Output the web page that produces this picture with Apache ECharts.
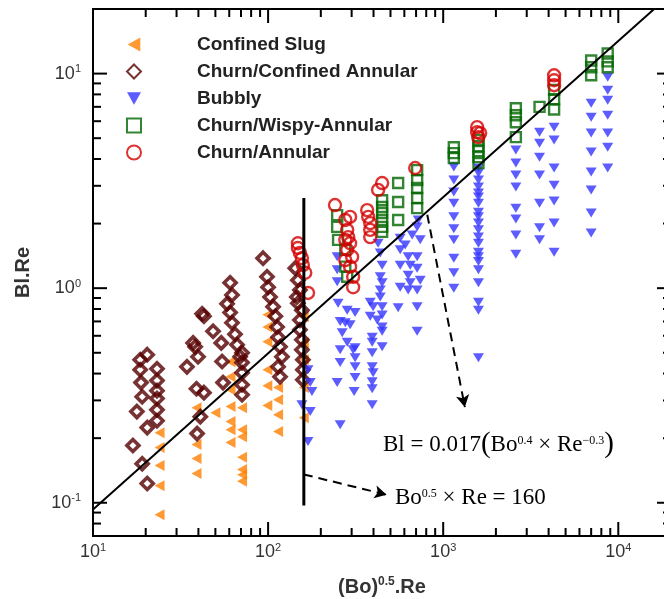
<!DOCTYPE html>
<html>
<head>
<meta charset="utf-8">
<script src="https://cdn.jsdelivr.net/npm/echarts@6/dist/echarts.min.js"></script>
<style>
  html, body { margin: 0; padding: 0; background: #fff; }
  #chart { width: 664px; height: 599px; }
</style>
</head>
<body>
<div id="chart"></div>
<script>
// ---- axis ranges and tick values ----
const X_MIN = 10, X_MAX = 20000;
const Y_MIN = 0.07, Y_MAX = 20;
const xMajorTicks = [10, 100, 1000, 10000];
const xMinorTicks = [20, 30, 40, 50, 60, 70, 80, 90, 200, 300, 400, 500, 600, 700, 800, 900,
                     2000, 3000, 4000, 5000, 6000, 7000, 8000, 9000];
const yMajorTicks = [0.1, 1, 10];
const yMinorTicks = [0.08, 0.09, 0.2, 0.3, 0.4, 0.5, 0.6, 0.7, 0.8, 0.9, 2, 3, 4, 5, 6, 7, 8, 9];

// ---- flow-regime observations: [(Bo)^0.5.Re, Bl.Re] ----
const confinedSlug = [
  [24, 0.212], [24, 0.181], [24, 0.149], [24, 0.120], [24, 0.088],
  [39, 0.277], [39, 0.187], [39, 0.161], [39, 0.137],
  [50, 0.263],
  [61, 0.454], [61, 0.387], [61, 0.336], [61, 0.281], [61, 0.239], [61, 0.219], [61, 0.191],
  [71, 0.277], [71, 0.219], [71, 0.203], [71, 0.163], [71, 0.143], [71, 0.135], [71, 0.126],
  [99, 0.751], [99, 0.660], [99, 0.563], [99, 0.417], [99, 0.351], [99, 0.284],
  [114, 0.344], [114, 0.302], [114, 0.257], [114, 0.215],
  [160, 0.735], [160, 0.556], [160, 0.464], [160, 0.344], [160, 0.249]
];

const churnConfinedAnnular = [
  [20.4, 0.49], [18.6, 0.464], [18.6, 0.417], [18.8, 0.363], [19.1, 0.312], [17.8, 0.266],
  [20.4, 0.224], [16.9, 0.185], [19.1, 0.152], [20.4, 0.123],
  [23.2, 0.421], [23.2, 0.371], [23.2, 0.333], [23.2, 0.306], [23.2, 0.271], [23.2, 0.241],
  [42, 0.76], [43, 0.74], [48.5, 0.63], [37.3, 0.556], [38.3, 0.533], [39.8, 0.479], [34.4, 0.43],
  [39, 0.34], [43, 0.326], [41, 0.252], [39.3, 0.21],
  [60.7, 1.06], [62.2, 0.93], [58.3, 0.845], [60.7, 0.77], [62.2, 0.69], [64.7, 0.61], [54, 0.556],
  [66.5, 0.545], [69.2, 0.479], [71, 0.5], [54.6, 0.455], [71, 0.45], [71, 0.404], [55.3, 0.363],
  [71, 0.355], [71, 0.319],
  [93.6, 1.38], [98.6, 1.13], [100, 1.01], [102.6, 0.91], [106.8, 0.82], [110, 0.74], [112.6, 0.66],
  [114, 0.59], [117, 0.533], [120, 0.479], [114, 0.43], [117, 0.387],
  [143, 1.24], [148, 1.09], [152, 0.98], [146, 0.91], [148, 0.85], [156, 0.79], [152, 0.71],
  [152, 0.64], [156, 0.575], [156, 0.516], [158, 0.464], [158, 0.417], [158, 0.374]
];

const bubbly = [
  [169, 0.417], [174, 0.363], [178, 0.33], [156, 0.286], [174, 0.266], [169, 0.193],
  [248, 1.4], [248, 1.22], [248, 1.07], [251, 0.85], [283, 0.79], [314, 0.77], [258, 0.70], [276, 0.69],
  [294, 0.675], [265, 0.62], [283, 0.56], [258, 0.516], [306, 0.516], [314, 0.474], [258, 0.45],
  [248, 0.363], [258, 0.231], [314, 0.527], [314, 0.43], [314, 0.383], [310, 0.33],
  [425, 1.62], [437, 1.46], [448, 1.28], [437, 1.13], [448, 1.06], [437, 0.98], [437, 0.91], [383, 0.86],
  [398, 0.82], [448, 0.82], [448, 0.75], [383, 0.74], [420, 0.71], [448, 0.66], [448, 0.63], [393, 0.59],
  [393, 0.56], [393, 0.5], [393, 0.43], [398, 0.404], [393, 0.366], [393, 0.34], [393, 0.286], [448, 0.533],
  [568, 1.71], [607, 1.59], [665, 1.77], [710, 1.93], [720, 2.08], [568, 1.51], [631, 1.4], [710, 1.4],
  [568, 1.28], [648, 1.28], [710, 1.24], [631, 1.15], [648, 1.06], [568, 1.01], [631, 0.98], [710, 0.98],
  [553, 0.81], [710, 0.82], [710, 0.63], [739, 1.68], [739, 1.09],
  [1150, 3.67], [1150, 3.19], [1150, 2.81], [1150, 2.49], [1150, 2.15], [1150, 1.89], [1150, 1.68],
  [1150, 1.38], [1150, 1.18], [1150, 1.0],
  [1590, 3.63], [1590, 3.44], [1590, 3.19], [1590, 2.96], [1590, 2.78], [1590, 2.66], [1590, 2.49],
  [1590, 2.26], [1590, 2.15], [1590, 2.01], [1590, 1.87], [1590, 1.73], [1590, 1.62], [1590, 1.47],
  [1590, 1.4], [1590, 1.33], [1590, 1.22], [1590, 1.06], [1590, 0.86], [1590, 0.79], [1590, 0.474],
  [2600, 4.4], [2600, 3.83], [2600, 3.37], [2600, 2.96], [2600, 2.36], [2600, 2.1], [2600, 1.77], [2600, 1.44],
  [3550, 5.33], [3550, 4.74], [3550, 4.08], [3550, 3.37], [3550, 2.49], [3550, 1.91], [3550, 1.68],
  [4300, 5.63], [4300, 4.9], [4300, 3.63], [4300, 3.02], [4300, 2.55], [4300, 2.01], [4300, 1.47],
  [7000, 7.28], [7000, 6.26], [7000, 5.28], [7000, 4.31], [7000, 3.48], [7000, 2.87], [7000, 2.24], [7000, 1.81],
  [8700, 9.61], [8700, 8.36], [8700, 7.52], [8700, 6.4], [8700, 5.28], [8700, 4.54], [8700, 3.63]
];

const churnWispyAnnular = [
  [248, 2.19], [248, 1.93], [251, 1.68], [276, 1.51], [276, 1.26], [283, 1.13],
  [448, 2.57], [448, 2.39], [448, 2.24], [448, 2.08], [448, 1.93], [448, 1.83],
  [553, 3.09], [553, 2.52], [553, 2.08],
  [710, 3.55], [710, 3.19], [710, 2.93], [710, 2.63], [710, 2.36],
  [1150, 4.54], [1150, 4.26], [1150, 4.04],
  [1590, 4.9], [1590, 4.59], [1590, 4.35], [1590, 4.08], [1590, 3.83],
  [2600, 6.9], [2600, 6.4], [2600, 5.93], [2600, 5.06],
  [3550, 7.0],
  [4300, 8.4], [4300, 7.6], [4300, 6.8],
  [7000, 11.5], [7000, 10.7], [7000, 9.82],
  [8700, 12.4], [8700, 11.4], [8700, 10.7]
];

const churnAnnular = [
  [148, 1.62], [148, 1.54], [152, 1.46], [156, 1.38], [158, 1.28], [163, 1.18], [169, 0.95],
  [241, 2.44],
  [276, 2.08], [294, 2.15], [283, 1.87], [287, 1.73], [294, 1.62], [283, 1.51], [302, 1.4], [276, 1.35],
  [294, 1.26], [306, 1.13], [306, 1.01], [276, 1.68],
  [368, 2.31], [373, 2.15], [383, 2.01], [383, 1.87], [383, 1.73],
  [425, 2.87], [448, 3.09],
  [692, 3.63],
  [1563, 5.63], [1563, 5.33], [1585, 5.06], [1626, 5.28],
  [4300, 9.82], [4300, 9.31], [4300, 8.83]
];

// correlation line and the Bo^0.5 x Re = 160 boundary
const fitLine = [[10, 0.093], [20000, 23.5]];
const thresholdLine = [[160, 0.097], [160, 2.63]];
// dashed leaders from each line to its equation
const leaderToThreshold = [[160, 0.1355], [475, 0.109]];
const leaderToFit = [[811, 2.2], [1330, 0.279]];

const seriesNames = ['Confined Slug', 'Churn/Confined Annular', 'Bubbly', 'Churn/Wispy-Annular', 'Churn/Annular'];

const SANS = '"Liberation Sans", Arial, Helvetica, sans-serif';
const SERIF = '"Liberation Serif", "Times New Roman", serif';

function powerLabel(v) {
  const lg = Math.log10(v);
  const e = Math.round(lg);
  if (Math.abs(lg - e) > 1e-6) return '';
  return '{b|10}{s|' + e + '}';
}

const powerRich = {
  b: { fontSize: 18, lineHeight: 20, color: '#333', fontFamily: SANS },
  s: { fontSize: 11, lineHeight: 11, color: '#333', fontFamily: SANS, verticalAlign: 'top' }
};

const chart = echarts.init(document.getElementById('chart'), null, { renderer: 'canvas' });

const hollow = (c, w) => ({ color: 'rgba(0,0,0,0)', borderColor: c, borderWidth: w });

const equationTexts = [
  {
    id: 'eq-fit', type: 'text', left: 383, top: 430, silent: true,
    style: {
      text: '{t|Bl = 0.017}{p|(}{t|Bo}{s|0.4}{t| \u00d7 Re}{s|\u22120.3}{p|)}',
      rich: {
        t: { fontSize: 23, lineHeight: 20, fontFamily: SERIF, fill: '#000' },
        s: { fontSize: 12, lineHeight: 12, fontFamily: SERIF, fill: '#000', verticalAlign: 'top' },
        p: { fontSize: 29, lineHeight: 20, fontFamily: SERIF, fill: '#000' }
      }
    }
  },
  {
    id: 'eq-threshold', type: 'text', left: 395, top: 486, silent: true,
    style: {
      text: '{t|Bo}{s|0.5}{t| \u00d7 Re = 160}',
      rich: {
        t: { fontSize: 23, lineHeight: 20, fontFamily: SERIF, fill: '#000' },
        s: { fontSize: 12, lineHeight: 12, fontFamily: SERIF, fill: '#000', verticalAlign: 'top' }
      }
    }
  }
];

const option = {
  animation: false,
  backgroundColor: '#fff',
  grid: {
    left: 93, top: 9, right: -7, bottom: 63,
    outerBoundsMode: 'none', containLabel: false,
    show: true, borderColor: '#000', borderWidth: 2
  },
  xAxis: {
    type: 'log', logBase: 10, min: X_MIN, max: X_MAX,
    axisLine: { show: false }, axisTick: { show: false }, splitLine: { show: false }, minorTick: { show: false },
    axisLabel: { margin: 6, formatter: powerLabel, rich: powerRich, showMinLabel: true, showMaxLabel: false },
    name: '{b|(Bo)}{s|0.5}{b|.Re}', nameLocation: 'middle', nameGap: 40,
    nameTextStyle: {
      rich: {
        b: { fontSize: 20, fontWeight: 'bold', lineHeight: 22, color: '#333', fontFamily: SANS },
        s: { fontSize: 12, fontWeight: 'bold', lineHeight: 12, color: '#333', fontFamily: SANS, verticalAlign: 'top' }
      }
    }
  },
  yAxis: {
    type: 'log', logBase: 10, min: Y_MIN, max: Y_MAX,
    axisLine: { show: false }, axisTick: { show: false }, splitLine: { show: false }, minorTick: { show: false },
    axisLabel: { margin: 12, formatter: powerLabel, rich: powerRich, showMinLabel: false, showMaxLabel: false },
    name: 'Bl.Re', nameLocation: 'middle', nameGap: 60, nameRotate: 90,
    nameTextStyle: { fontSize: 20, fontWeight: 'bold', color: '#333', fontFamily: SANS }
  },
  legend: {
    orient: 'vertical', left: 121, top: 30,
    itemWidth: 14, itemHeight: 14, itemGap: 8,
    data: seriesNames,
    selectedMode: false,
    formatter: n => '{g|}{t|' + n + '}',
    textStyle: {
      rich: {
        g: { width: 51 },
        t: { fontSize: 19, fontWeight: 'bold', lineHeight: 20, color: '#222', fontFamily: SANS }
      }
    }
  },
  graphic: equationTexts,
  series: [
    {
      name: 'Confined Slug', type: 'scatter', data: confinedSlug, z: 2,
      symbol: 'path://M0,5L9,0L9,10Z', symbolSize: [10, 11],
      itemStyle: { color: '#ff8000' }, emphasis: { disabled: true }
    },
    {
      name: 'Churn/Confined Annular', type: 'scatter', data: churnConfinedAnnular, z: 2,
      symbol: 'diamond', symbolSize: 12,
      itemStyle: hollow('#550000', 3.6), emphasis: { disabled: true }
    },
    {
      name: 'Bubbly', type: 'scatter', data: bubbly, z: 2,
      symbol: 'path://M0,0L10,0L5,9Z', symbolSize: [11, 9],
      itemStyle: { color: '#3535ff' }, emphasis: { disabled: true }
    },
    {
      name: 'Churn/Wispy-Annular', type: 'scatter', data: churnWispyAnnular, z: 2,
      symbol: 'rect', symbolSize: 10,
      itemStyle: hollow('#006600', 2.4), emphasis: { disabled: true }
    },
    {
      name: 'Churn/Annular', type: 'scatter', data: churnAnnular, z: 2,
      symbol: 'circle', symbolSize: 12,
      itemStyle: hollow('#d40000', 2.4), emphasis: { disabled: true }
    },
    {
      name: 'fit', type: 'line', data: fitLine, z: 3, clip: true, silent: true,
      symbol: 'none', lineStyle: { color: '#000', width: 2 },
      markLine: {
        silent: true, symbol: ['none', 'arrow'], symbolSize: [10, 12],
        label: { show: false },
        lineStyle: { color: '#000', width: 2, type: [9, 6] },
        emphasis: { disabled: true },
        data: [
          [{ coord: leaderToThreshold[0] }, { coord: leaderToThreshold[1] }],
          [{ coord: leaderToFit[0] }, { coord: leaderToFit[1] }]
        ]
      }
    },
    {
      name: 'threshold', type: 'line', data: thresholdLine, z: 3, silent: true,
      symbol: 'none', lineStyle: { color: '#000', width: 3 }
    }
  ]
};

chart.setOption(option);

// inward tick marks on all four frame edges, placed through the axes' own scales
const MAJOR_LEN = 14, MINOR_LEN = 8;
const toPx = pt => chart.convertToPixel({ gridIndex: 0 }, pt);
const tickLines = [];
function addTick(x1, y1, x2, y2) {
  tickLines.push({
    type: 'line', silent: true, z: 50,
    shape: { x1: x1, y1: y1, x2: x2, y2: y2 },
    style: { stroke: '#000', lineWidth: 2 }
  });
}
function addXTicks(values, len) {
  values.forEach(v => {
    const b = toPx([v, Y_MIN]), t = toPx([v, Y_MAX]);
    addTick(b[0], b[1], b[0], b[1] - len);
    addTick(t[0], t[1], t[0], t[1] + len);
  });
}
function addYTicks(values, len) {
  values.forEach(v => {
    const l = toPx([X_MIN, v]), r = toPx([X_MAX, v]);
    addTick(l[0], l[1], l[0] + len, l[1]);
    addTick(r[0], r[1], r[0] - len, r[1]);
  });
}
addXTicks(xMajorTicks, MAJOR_LEN);
addXTicks(xMinorTicks, MINOR_LEN);
addYTicks(yMajorTicks, MAJOR_LEN);
addYTicks(yMinorTicks, MINOR_LEN);

chart.setOption({ graphic: equationTexts.concat(tickLines) });
</script>
</body>
</html>
